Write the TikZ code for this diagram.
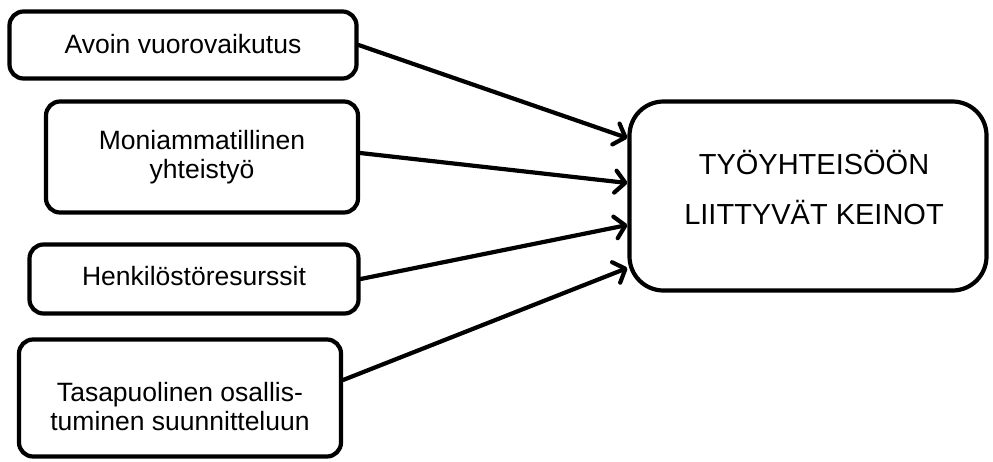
\documentclass[tikz,border=0pt]{standalone}
\usepackage{fontspec}
\setmainfont{Liberation Sans}
\usetikzlibrary{arrows.meta}
\begin{document}
\begin{tikzpicture}[x=1pt,y=-1pt,
  box/.style={draw=black, line width=4.2pt, rounded corners=14pt, fill=white,
    align=center, inner sep=0pt, font=\fontsize{26.5}{29}\selectfont},
  bigbox/.style={draw=black, line width=4.2pt, rounded corners=34pt, fill=white,
    inner sep=0pt},
  conn/.style={line width=4.2pt, line cap=round,
    -{Straight Barb[length=10pt,width=22pt,line cap=round,line join=round]}}]
\useasboundingbox (0,0) rectangle (993,461);
\node[box, minimum width=347pt, minimum height=67pt] (b1) at (183,45) {Avoin vuorovaikutus\rule[-2pt]{0pt}{1pt}};
\node[box, minimum width=312pt, minimum height=111pt] (b2) at (202,157) {Moniammatillinen\\yhteistyö};
\node[box, minimum width=329pt, minimum height=69pt] (b3) at (194,279) {Henkilöstöresurssit\rule[-6pt]{0pt}{1pt}};
\node[box, minimum width=322pt, minimum height=117pt] (b4) at (180,398) {\rule{0pt}{36pt}Tasapuolinen osallis-\\tuminen suunnitteluun};
\node[bigbox, minimum width=357pt, minimum height=189pt] (T) at (808,196) {};
\node[align=center, inner sep=0pt, font=\fontsize{29}{50}\selectfont] (Tt) at (814,188) {TYÖYHTEISÖÖN\\LIITTYVÄT KEINOT};
\draw[conn] (b1.east) -- ([yshift=58pt]T.west);
\draw[conn] ([yshift=4pt]b2.east) -- ([yshift=13pt]T.west);
\draw[conn] (b3.east) -- ([yshift=-29pt]T.west);
\draw[conn] ([yshift=18pt]b4.east) -- ([yshift=-72pt]T.west);
\end{tikzpicture}
\end{document}
